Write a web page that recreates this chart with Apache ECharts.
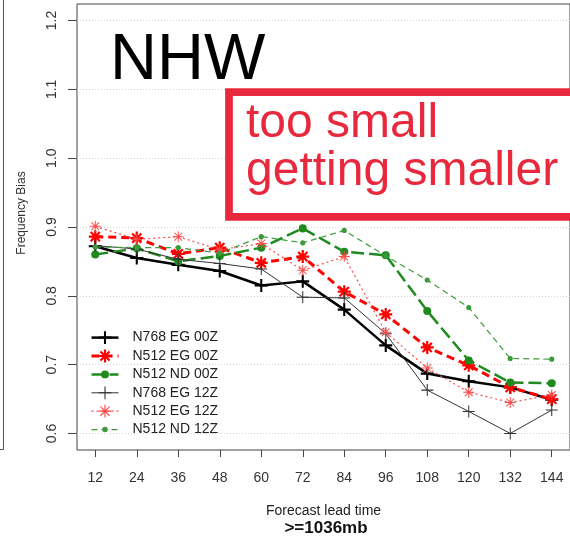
<!DOCTYPE html>
<html><head><meta charset="utf-8">
<script src="https://cdn.jsdelivr.net/npm/echarts@6/dist/echarts.min.js"></script>
<style>html,body{margin:0;padding:0;background:#fff}#c{width:570px;height:538px}</style>
</head><body><div id="c"></div>
<script>
// ---------- data ----------
const leadTimes = [12, 24, 36, 48, 60, 72, 84, 96, 108, 120, 132, 144];
const yTicks = [0.6, 0.7, 0.8, 0.9, 1.0, 1.1, 1.2];
const seriesNames = ['N768 EG 00Z', 'N512 EG 00Z', 'N512 ND 00Z', 'N768 EG 12Z', 'N512 EG 12Z', 'N512 ND 12Z'];
const n768eg00 = [0.872, 0.855, 0.845, 0.836, 0.815, 0.821, 0.780, 0.728, 0.687, 0.676, 0.667, 0.649];
const n512eg00 = [0.886, 0.884, 0.861, 0.870, 0.848, 0.857, 0.806, 0.773, 0.725, 0.699, 0.667, 0.650];
const n512nd00 = [0.860, 0.869, 0.850, 0.858, 0.870, 0.898, 0.864, 0.859, 0.778, 0.706, 0.674, 0.673];
const n768eg12 = [0.873, 0.868, 0.853, 0.847, 0.839, 0.798, 0.797, 0.745, 0.663, 0.632, 0.600, 0.634];
const n512eg12 = [0.901, 0.882, 0.886, 0.867, 0.876, 0.837, 0.857, 0.747, 0.695, 0.660, 0.645, 0.656];
const n512nd12 = [0.871, 0.870, 0.870, 0.862, 0.886, 0.877, 0.895, 0.858, 0.823, 0.783, 0.709, 0.708];
const titleText = 'NHW';
const noteLines = ['too small', 'getting smaller'];
const xName = 'Forecast lead time';
const subName = '>=1036mb';
const yName = 'Frequency Bias';

// ---------- symbol shapes (20x20 box) ----------
function plusPath(t) {
  const a = 10 - t / 2, b = 10 + t / 2;
  return `M0 ${a}L20 ${a}L20 ${b}L0 ${b}Z M${a} 0L${b} 0L${b} 20L${a} 20Z`;
}
function starPath(t) {
  const r = 7.07, c = 10, k = (t / 2) * Math.SQRT1_2;
  const p1 = [c - r, c - r], p2 = [c + r, c + r], p3 = [c + r, c - r], p4 = [c - r, c + r];
  const f = (p, dx, dy) => `${(p[0] + dx).toFixed(2)} ${(p[1] + dy).toFixed(2)}`;
  const d1 = `M${f(p1, -k, k)}L${f(p1, k, -k)}L${f(p2, k, -k)}L${f(p2, -k, k)}Z`;
  const d2 = `M${f(p3, -k, -k)}L${f(p3, k, k)}L${f(p4, k, k)}L${f(p4, -k, -k)}Z`;
  return plusPath(t) + ' ' + d1 + ' ' + d2;
}
function dotPath(r) {
  return `M0 0L0.01 0L0.01 0.01Z M20 20L19.99 20L19.99 19.99Z M${10 - r} 10A${r} ${r} 0 1 1 ${10 + r} 10A${r} ${r} 0 1 1 ${10 - r} 10Z`;
}

const styles = [
  { color: '#000000', width: 2.5, type: 'solid', symbol: 'path://' + plusPath(3.2), size: 13 },
  { color: '#ff0000', width: 3, type: [8, 5], symbol: 'path://' + starPath(3.4), size: 13 },
  { color: '#1f8a1f', width: 2.5, type: [13, 5], symbol: 'path://' + dotPath(6.2), size: 13 },
  { color: '#333333', width: 1, type: 'solid', symbol: 'path://' + plusPath(1.7), size: 12 },
  { color: '#ff4a4a', width: 1.2, type: [2, 3], symbol: 'path://' + starPath(1.8), size: 11 },
  { color: '#3b9b3b', width: 1.2, type: [6, 4], symbol: 'path://' + dotPath(4.3), size: 12 }
];
const values = [n768eg00, n512eg00, n512nd00, n768eg12, n512eg12, n512nd12];

const series = values.map((vals, i) => ({
  name: seriesNames[i],
  type: 'line',
  data: leadTimes.map((t, j) => [t, vals[j]]),
  symbol: styles[i].symbol,
  symbolSize: styles[i].size,
  showAllSymbol: true,
  lineStyle: { color: styles[i].color, width: styles[i].width, type: styles[i].type },
  itemStyle: { color: styles[i].color, borderWidth: 0 },
  emphasis: { disabled: true },
  animation: false,
  z: 2 + i
}));

const FONT = 'Liberation Sans, Arial, Helvetica, sans-serif';
const chart = echarts.init(document.getElementById('c'), null, { renderer: 'canvas' });
chart.setOption({
  animation: false,
  backgroundColor: '#ffffff',
  grid: { left: 77, top: 4, width: 499.2, height: 446, show: true, borderColor: '#444', borderWidth: 1, backgroundColor: 'transparent' },
  xAxis: {
    type: 'value', min: 6.72, max: 149.28,
    axisLine: { show: false },
    axisTick: { show: true, length: 7, lineStyle: { color: '#444' }, customValues: leadTimes },
    axisLabel: { customValues: leadTimes, margin: 21, fontFamily: FONT, fontSize: 14, color: '#333', hideOverlap: false },
    splitLine: { show: false },
    name: xName, nameLocation: 'middle', nameGap: 54,
    nameTextStyle: { fontFamily: FONT, fontSize: 14, color: '#222' }
  },
  yAxis: {
    type: 'value', min: 0.576, max: 1.224,
    axisLine: { show: false },
    axisTick: { show: true, length: 9, lineStyle: { color: '#444' }, customValues: yTicks },
    axisLabel: { customValues: yTicks, rotate: 90, margin: 18, fontFamily: FONT, fontSize: 14, color: '#333',
      formatter: v => v.toFixed(1) },
    splitLine: { show: true, lineStyle: { color: '#d4d4d4', width: 1, type: [1, 2] } }
  },
  legend: {
    orient: 'vertical', left: 90, top: 330.6, padding: 0,
    itemWidth: 27, itemHeight: 16, itemGap: 4.4,
    selectedMode: false,
    data: seriesNames,
    lineStyle: { width: 'inherit' },
    textStyle: { fontFamily: FONT, fontSize: 14, color: '#222', padding: [0, 0, 0, 9] }
  },
  series: series,
  graphic: [
    { type: 'line', shape: { x1: 3.5, y1: 0, x2: 3.5, y2: 449.5 }, style: { stroke: '#555', lineWidth: 1 }, silent: true },
    { type: 'line', shape: { x1: 0, y1: 449.5, x2: 3.5, y2: 449.5 }, style: { stroke: '#555', lineWidth: 1 }, silent: true },
    { type: 'text', x: 110, y: 60.8, z: 20, silent: true,
      style: { text: titleText, font: '65px ' + FONT, fill: '#000', verticalAlign: 'middle' } },
    { type: 'rect', z: 20, silent: true, shape: { x: 229, y: 92.2, width: 400, height: 124.6 },
      style: { fill: '#ffffff', stroke: '#e8283c', lineWidth: 7.7 } },
    { type: 'text', z: 21, silent: true, x: 246, y: 123.7,
      style: { text: noteLines[0], font: '48px ' + FONT, fill: '#e8283c', verticalAlign: 'middle' } },
    { type: 'text', z: 21, silent: true, x: 246, y: 171.7,
      style: { text: noteLines[1], font: '48px ' + FONT, fill: '#e8283c', verticalAlign: 'middle' } },
    { type: 'text', z: 21, silent: true, x: 326, y: 528,
      style: { text: subName, font: 'bold 17px ' + FONT, fill: '#111', align: 'center', verticalAlign: 'middle' } },
    { type: 'text', z: 21, silent: true, x: 22, y: 213, rotation: Math.PI / 2,
      style: { text: yName, font: '12px ' + FONT, fill: '#333', align: 'center', verticalAlign: 'middle' } }
  ]
});
</script>
</body></html>
